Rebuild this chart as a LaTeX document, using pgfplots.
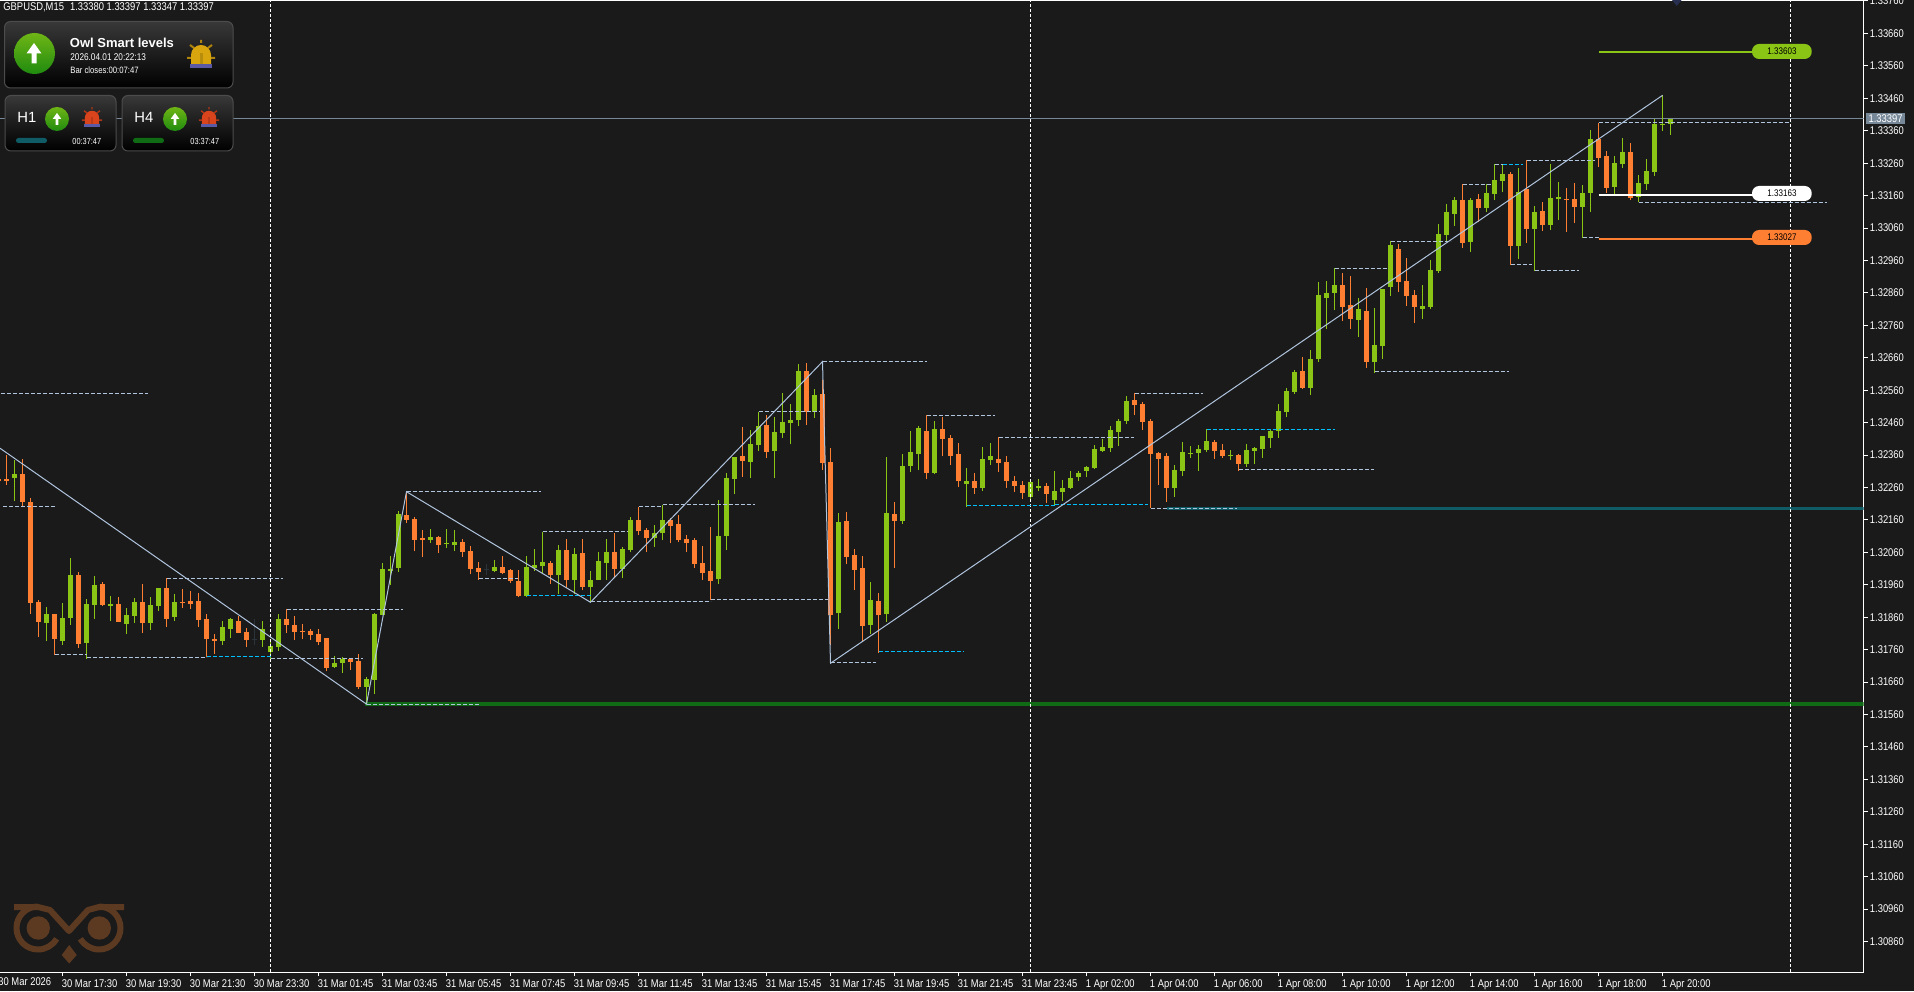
\documentclass[border=0pt]{standalone}
\usepackage{fontspec}
\usepackage{pgfplots}
\usepackage{pgfplotstable}
\pgfplotsset{compat=1.18}
\setmainfont{Liberation Sans}
\newfontfamily\tf[FakeStretch=0.84]{Liberation Sans}
\newcommand\fs[1]{\fontsize{#1}{#1}\selectfont}
\definecolor{bg}{HTML}{1A1A1A}
\definecolor{upc}{HTML}{8AC516}
\definecolor{dnc}{HTML}{FF7F32}
\definecolor{dojc}{HTML}{2B333B}
\definecolor{steel}{HTML}{B0C4DE}
\definecolor{slate}{HTML}{778899}
\definecolor{skyc}{HTML}{00BFFF}
\definecolor{teal1}{HTML}{0F5C66}
\definecolor{green1}{HTML}{0F6B14}
\definecolor{owl}{HTML}{5C3A22}
\definecolor{btop}{HTML}{6FB516}
\definecolor{bbot}{HTML}{1F8B0F}
\definecolor{alarmy}{HTML}{D9A50F}
\definecolor{alarmr}{HTML}{D9441C}

% k open high low close, 15 minute bars
\pgfplotstableread{
k o h l c
1 1.32289 1.32345 1.32218 1.32301
5 1.31842 1.31891 1.31786 1.31870
7 1.31786 1.31904 1.31774 1.31857
8 1.31857 1.32042 1.31836 1.31990
10 1.31780 1.31916 1.31731 1.31901
11 1.31897 1.31987 1.31854 1.31959
13 1.31894 1.31925 1.31848 1.31901
15 1.31839 1.31888 1.31808 1.31867
16 1.31864 1.31919 1.31842 1.31907
18 1.31842 1.31922 1.31820 1.31897
19 1.31894 1.31950 1.31879 1.31950
21 1.31860 1.31931 1.31848 1.31907
27 1.31786 1.31848 1.31774 1.31830
28 1.31823 1.31857 1.31796 1.31854
32 1.31790 1.31848 1.31768 1.31823
33 1.31753 1.31790 1.31722 1.31771
34 1.31768 1.31870 1.31756 1.31854
41 1.31706 1.31740 1.31703 1.31719
42 1.31719 1.31737 1.31688 1.31731
45 1.31645 1.31675 1.31592 1.31669
46 1.31666 1.31873 1.31623 1.31870
47 1.31867 1.32027 1.31867 1.32008
48 1.32002 1.32049 1.31959 1.32008
49 1.32012 1.32187 1.32000 1.32178
53 1.32098 1.32132 1.32089 1.32107
55 1.32086 1.32132 1.32073 1.32089
56 1.32082 1.32129 1.32064 1.32092
61 1.32002 1.32036 1.31999 1.32014
65 1.31925 1.32048 1.31922 1.32014
66 1.32011 1.32070 1.32002 1.32020
67 1.32017 1.32124 1.31995 1.32030
69 1.31989 1.32082 1.31931 1.32067
71 1.31974 1.32073 1.31931 1.32054
73 1.31952 1.32003 1.31906 1.31974
74 1.31974 1.32060 1.31974 1.32033
75 1.32027 1.32100 1.31974 1.32060
77 1.32008 1.32076 1.31980 1.32070
78 1.32067 1.32168 1.32060 1.32159
81 1.32104 1.32144 1.32076 1.32119
82 1.32119 1.32207 1.32097 1.32159
89 1.31977 1.32221 1.31962 1.32110
90 1.32110 1.32304 1.32067 1.32289
91 1.32285 1.32353 1.32239 1.32353
93 1.32338 1.32437 1.32289 1.32393
94 1.32390 1.32494 1.32372 1.32449
96 1.32372 1.32477 1.32289 1.32430
97 1.32427 1.32551 1.32412 1.32461
98 1.32458 1.32517 1.32393 1.32467
99 1.32467 1.32640 1.32449 1.32618
101 1.32492 1.32563 1.32474 1.32544
104 1.31872 1.32181 1.31823 1.32153
108 1.31835 1.31968 1.31808 1.31912
110 1.31869 1.32353 1.31845 1.32181
112 1.32156 1.32363 1.32147 1.32326
113 1.32326 1.32433 1.32307 1.32369
114 1.32363 1.32449 1.32313 1.32443
116 1.32304 1.32464 1.32301 1.32440
120 1.32271 1.32320 1.32201 1.32280
122 1.32258 1.32385 1.32249 1.32348
123 1.32345 1.32397 1.32329 1.32357
128 1.32231 1.32286 1.32218 1.32277
129 1.32258 1.32286 1.32249 1.32265
131 1.32221 1.32311 1.32205 1.32249
132 1.32246 1.32283 1.32218 1.32258
133 1.32258 1.32311 1.32255 1.32289
134 1.32292 1.32311 1.32280 1.32305
135 1.32311 1.32326 1.32292 1.32323
136 1.32320 1.32391 1.32317 1.32379
137 1.32372 1.32409 1.32369 1.32385
138 1.32382 1.32450 1.32369 1.32437
139 1.32431 1.32471 1.32388 1.32465
140 1.32465 1.32542 1.32456 1.32527
146 1.32258 1.32329 1.32231 1.32314
147 1.32311 1.32400 1.32295 1.32369
148 1.32363 1.32388 1.32351 1.32366
149 1.32366 1.32391 1.32311 1.32379
150 1.32376 1.32439 1.32369 1.32403
153 1.32357 1.32376 1.32345 1.32360
155 1.32332 1.32394 1.32323 1.32376
156 1.32372 1.32385 1.32332 1.32382
157 1.32379 1.32419 1.32351 1.32419
158 1.32413 1.32440 1.32382 1.32434
159 1.32434 1.32517 1.32413 1.32496
160 1.32493 1.32567 1.32477 1.32557
161 1.32554 1.32622 1.32548 1.32616
163 1.32567 1.32684 1.32545 1.32656
164 1.32656 1.32894 1.32647 1.32853
165 1.32844 1.32897 1.32749 1.32860
166 1.32860 1.32936 1.32807 1.32884
169 1.32776 1.32844 1.32724 1.32810
171 1.32647 1.32813 1.32613 1.32699
172 1.32696 1.32872 1.32656 1.32872
173 1.32878 1.33020 1.32850 1.33008
177 1.32810 1.32884 1.32779 1.32820
178 1.32816 1.32961 1.32810 1.32931
179 1.32927 1.33072 1.32922 1.33042
180 1.33038 1.33134 1.33017 1.33109
181 1.33103 1.33156 1.33066 1.33146
183 1.33017 1.33153 1.32986 1.33146
185 1.33122 1.33196 1.33109 1.33168
186 1.33165 1.33256 1.33146 1.33208
187 1.33205 1.33254 1.33171 1.33227
189 1.33005 1.33245 1.32964 1.33171
191 1.33057 1.33128 1.32927 1.33109
193 1.33069 1.33257 1.33054 1.33153
194 1.33149 1.33202 1.33085 1.33156
197 1.33125 1.33193 1.33029 1.33168
198 1.33168 1.33362 1.33109 1.33334
201 1.33186 1.33282 1.33165 1.33260
202 1.33257 1.33338 1.33245 1.33294
204 1.33156 1.33223 1.33139 1.33199
205 1.33196 1.33273 1.33177 1.33236
206 1.33233 1.33396 1.33220 1.33381
207 1.33378 1.33469 1.33359 1.33381
208 1.33380 1.33397 1.33347 1.33397
}\upbars

\pgfplotstableread{
k o h l c
-1 1.32286 1.32290 1.32282 1.32280
0 1.32286 1.32360 1.32267 1.32280
2 1.32301 1.32348 1.32200 1.32215
3 1.32215 1.32229 1.31870 1.31904
4 1.31907 1.31912 1.31799 1.31845
6 1.31870 1.31870 1.31743 1.31793
9 1.31990 1.32000 1.31765 1.31777
12 1.31962 1.31968 1.31894 1.31897
14 1.31901 1.31922 1.31845 1.31845
17 1.31907 1.31962 1.31811 1.31842
20 1.31950 1.31980 1.31830 1.31854
22 1.31907 1.31947 1.31888 1.31904
23 1.31910 1.31941 1.31885 1.31901
24 1.31910 1.31934 1.31830 1.31851
25 1.31854 1.31870 1.31736 1.31793
26 1.31793 1.31808 1.31746 1.31786
29 1.31848 1.31864 1.31811 1.31811
30 1.31814 1.31827 1.31768 1.31790
35 1.31854 1.31884 1.31811 1.31836
36 1.31836 1.31864 1.31790 1.31814
37 1.31817 1.31839 1.31793 1.31814
38 1.31817 1.31823 1.31790 1.31805
39 1.31808 1.31823 1.31774 1.31783
40 1.31796 1.31796 1.31694 1.31703
43 1.31731 1.31734 1.31697 1.31722
44 1.31725 1.31746 1.31638 1.31645
50 1.32175 1.32246 1.32150 1.32160
51 1.32163 1.32169 1.32064 1.32098
52 1.32104 1.32129 1.32045 1.32098
54 1.32107 1.32110 1.32058 1.32082
57 1.32092 1.32101 1.32045 1.32061
58 1.32064 1.32079 1.31993 1.32008
59 1.32012 1.32030 1.31975 1.32000
62 1.32014 1.32048 1.31993 1.31996
63 1.32005 1.32008 1.31965 1.31971
64 1.31971 1.32005 1.31922 1.31925
68 1.32027 1.32033 1.31962 1.31989
70 1.32067 1.32100 1.31949 1.31974
72 1.32057 1.32100 1.31943 1.31952
76 1.32060 1.32119 1.31980 1.32008
79 1.32159 1.32201 1.32113 1.32125
80 1.32128 1.32134 1.32060 1.32104
83 1.32159 1.32165 1.32088 1.32141
84 1.32147 1.32174 1.32091 1.32097
85 1.32100 1.32113 1.32060 1.32088
86 1.32097 1.32104 1.32011 1.32023
87 1.32027 1.32079 1.31974 1.31996
88 1.32003 1.32137 1.31914 1.31971
92 1.32356 1.32446 1.32292 1.32341
95 1.32452 1.32483 1.32350 1.32369
100 1.32618 1.32643 1.32452 1.32492
102 1.32548 1.32591 1.32313 1.32335
103 1.32338 1.32381 1.31774 1.31866
105 1.32156 1.32184 1.32023 1.32045
106 1.32051 1.32070 1.31943 1.32005
107 1.32011 1.32048 1.31783 1.31832
109 1.31909 1.31934 1.31751 1.31866
111 1.32178 1.32215 1.32011 1.32156
115 1.32433 1.32482 1.32285 1.32304
117 1.32440 1.32477 1.32356 1.32409
118 1.32412 1.32421 1.32329 1.32356
119 1.32363 1.32396 1.32261 1.32279
121 1.32280 1.32305 1.32240 1.32258
124 1.32348 1.32415 1.32308 1.32335
125 1.32339 1.32357 1.32258 1.32280
126 1.32280 1.32295 1.32246 1.32265
127 1.32268 1.32280 1.32224 1.32243
130 1.32265 1.32274 1.32212 1.32240
141 1.32530 1.32550 1.32483 1.32514
142 1.32517 1.32524 1.32437 1.32462
143 1.32465 1.32471 1.32196 1.32363
144 1.32366 1.32369 1.32268 1.32348
145 1.32357 1.32366 1.32215 1.32258
151 1.32400 1.32406 1.32348 1.32372
152 1.32376 1.32394 1.32351 1.32357
154 1.32360 1.32363 1.32312 1.32332
162 1.32619 1.32662 1.32564 1.32567
167 1.32884 1.32921 1.32773 1.32816
168 1.32823 1.32912 1.32749 1.32779
170 1.32804 1.32875 1.32628 1.32647
174 1.32995 1.33011 1.32863 1.32894
175 1.32897 1.32968 1.32820 1.32850
176 1.32853 1.32869 1.32767 1.32816
182 1.33146 1.33195 1.32998 1.33014
184 1.33149 1.33165 1.33079 1.33122
188 1.33227 1.33233 1.32946 1.33005
190 1.33180 1.33269 1.33014 1.33057
192 1.33112 1.33140 1.33051 1.33069
195 1.33149 1.33183 1.33048 1.33146
196 1.33149 1.33199 1.33075 1.33125
199 1.33334 1.33385 1.33248 1.33276
200 1.33282 1.33297 1.33168 1.33183
203 1.33294 1.33322 1.33146 1.33153
}\downbars

\pgfplotstableread{
k o h l c
31 1.31793 1.31854 1.31774 1.31790
60 1.32009 1.32023 1.31991 1.32006
}\flatbars

\pgfplotsset{
  wick/.style={draw=none,forget plot,error bars/.cd,y dir=plus,y explicit,error mark=none,
    error bar style={line width=0.5pt,line cap=butt,solid,#1}},
  body/.style={draw=none,forget plot,error bars/.cd,y dir=plus,y explicit,error mark=none,
    error bar style={line width=2.5pt,line cap=butt,solid,#1}},
  lvl/.style={steel,line width=0.5pt,dash pattern=on 2pt off 1pt,forget plot},
  lvc/.style={skyc,line width=0.5pt,dash pattern=on 2pt off 1pt,forget plot},
}

\newcommand\arrowicon[3]{%
  \begin{scope}[shift={(#1,#2)},scale=#3]
    \fill[white] (0,-10.5) -- (7.5,0) -- (2.5,0) -- (2.5,10) -- (-2.5,10) -- (-2.5,0) -- (-7.5,0) -- cycle;
  \end{scope}}
\newcommand\alarmicon[6]{% x y scale dome ray base
  \begin{scope}[shift={(#1,#2)},scale=#3]
    \draw[#5,line width=#3*1pt] (0,-15) -- (0,-12) (-11,-10) -- (-7,-7) (11,-10) -- (7,-7)
      (-14,3) -- (-10,3) (14,3) -- (10,3);
    \fill[#4] (-10,9) -- (-10,0) arc (180:360:10) -- (10,9) -- cycle;
    \fill[#6] (-11,9) rectangle (11,13);
    \fill[#4!85!black] (-1.5,-2) rectangle (1.5,9);
  \end{scope}}

\begin{document}
\begin{tikzpicture}
\fill[bg] (0,0) rectangle (957pt,495.5pt);
\useasboundingbox (0,0) rectangle (957pt,495.5pt);
\begin{axis}[
  at={(0pt,9.5pt)},anchor=south west,scale only axis,
  width=931.75pt,height=485.5pt,
  xmin=-0.8125,xmax=232.125,ymin=1.30766,ymax=1.33760,
  axis x line=box,axis y line=right,
  axis line style={white,line width=0.5pt,-},
  tick align=outside,major tick length=2pt,
  tick style={white,line width=0.5pt},
  xtick pos=bottom,ytick pos=right,
  xtick={7,15,...,207},
  xticklabels={30 Mar 17:30,30 Mar 19:30,30 Mar 21:30,30 Mar 23:30,31 Mar 01:45,31 Mar 03:45,31 Mar 05:45,31 Mar 07:45,31 Mar 09:45,31 Mar 11:45,31 Mar 13:45,31 Mar 15:45,31 Mar 17:45,31 Mar 19:45,31 Mar 21:45,31 Mar 23:45,1 Apr 02:00,1 Apr 04:00,1 Apr 06:00,1 Apr 08:00,1 Apr 10:00,1 Apr 12:00,1 Apr 14:00,1 Apr 16:00,1 Apr 18:00,1 Apr 20:00},
  ytick={1.3086,1.3096,1.3106,1.3116,1.3126,1.3136,1.3146,1.3156,1.3166,1.3176,1.3186,1.3196,1.3206,1.3216,1.3226,1.3236,1.3246,1.3256,1.3266,1.3276,1.3286,1.3296,1.3306,1.3316,1.3326,1.3336,1.3346,1.3356,1.3366,1.3376},
  tick label style={font=\tf\fs{5.6},text=white,inner sep=0pt},
  xticklabel style={anchor=north west,xshift=-0.5pt,yshift=-1.5pt},
  yticklabel style={anchor=west,xshift=1pt,/pgf/number format/fixed,/pgf/number format/fixed zerofill,/pgf/number format/precision=5,/pgf/number format/assume math mode=true},
  scaled y ticks=false,
]
% bid line and the two long support lines
\addplot[slate,line width=0.5pt,forget plot] coordinates {(-0.8125,1.33397) (232.125,1.33397)};
\addplot[green1,line width=1.75pt,forget plot] coordinates {(44.8,1.31592) (232.125,1.31592)};
\addplot[teal1,line width=1.5pt,forget plot] coordinates {(145,1.32196) (232.125,1.32196)};

% candles
\addplot[wick=upc] table[x=k,y=l,y error expr=\thisrow{h}-\thisrow{l}] {\upbars};
\addplot[body=upc] table[x=k,y=o,y error expr=\thisrow{c}-\thisrow{o}] {\upbars};
\addplot[wick=dnc] table[x=k,y=l,y error expr=\thisrow{h}-\thisrow{l}] {\downbars};
\addplot[body=dnc] table[x=k,y=c,y error expr=\thisrow{o}-\thisrow{c}] {\downbars};
\addplot[wick=dojc] table[x=k,y=l,y error expr=\thisrow{h}-\thisrow{l}] {\flatbars};
\addplot[body=dojc] table[x=k,y=c,y error expr=\thisrow{o}-\thisrow{c}] {\flatbars};

% session separators
\addplot[white,line width=0.5pt,dash pattern=on 1.5pt off 1pt,forget plot] coordinates {(33,1.30766) (33,1.3376)};
\addplot[white,line width=0.5pt,dash pattern=on 1.5pt off 1pt,forget plot] coordinates {(128,1.30766) (128,1.3376)};
\addplot[white,line width=0.5pt,dash pattern=on 1.5pt off 1pt,forget plot] coordinates {(223,1.30766) (223,1.3376)};

% swing levels
\addplot[lvl] coordinates {(-0.7,1.32549) (17.7,1.32549)};
\addplot[lvl] coordinates {(-0.4,1.32202) (6,1.32202)};
\addplot[lvl] coordinates {(20,1.31980) (34.6,1.31980)};
\addplot[lvl] coordinates {(35,1.31884) (49.6,1.31884)};
\addplot[lvl] coordinates {(6,1.31745) (10,1.31745)};
\addplot[lvl] coordinates {(10,1.31736) (25,1.31736)};
\addplot[lvc] coordinates {(25,1.31739) (33,1.31739)};
\addplot[lvl] coordinates {(33,1.31733) (44.6,1.31733)};
\addplot[lvl] coordinates {(45,1.31592) (59,1.31592)};
\addplot[lvl] coordinates {(50,1.32248) (66.8,1.32248)};
\addplot[lvl] coordinates {(59,1.31979) (63.9,1.31979)};
\addplot[lvc] coordinates {(65,1.31927) (73,1.31927)};
\addplot[lvl] coordinates {(73,1.31908) (88,1.31908)};
\addplot[lvl] coordinates {(88,1.31914) (102.7,1.31914)};
\addplot[lvl] coordinates {(67,1.32124) (77.7,1.32124)};
\addplot[lvl] coordinates {(79,1.32201) (82,1.32201)};
\addplot[lvl] coordinates {(82,1.32207) (93.6,1.32207)};
\addplot[lvl] coordinates {(94,1.32494) (101.7,1.32494)};
\addplot[lvl] coordinates {(102,1.32648) (115,1.32648)};
\addplot[lvl] coordinates {(115,1.32482) (123.6,1.32482)};
\addplot[lvl] coordinates {(103,1.31720) (108.7,1.31720)};
\addplot[lvc] coordinates {(109,1.31754) (119.7,1.31754)};
\addplot[lvl] coordinates {(124,1.32415) (140.9,1.32415)};
\addplot[lvc] coordinates {(120,1.32205) (131,1.32205)};
\addplot[lvc] coordinates {(131,1.32208) (142.7,1.32208)};
\addplot[lvl] coordinates {(143,1.32196) (153.8,1.32196)};
\addplot[lvl] coordinates {(141,1.32550) (149.6,1.32550)};
\addplot[lvc] coordinates {(150,1.32439) (166,1.32439)};
\addplot[lvl] coordinates {(154,1.32316) (170.9,1.32316)};
\addplot[lvl] coordinates {(171,1.32618) (187.8,1.32618)};
\addplot[lvl] coordinates {(166,1.32936) (172.6,1.32936)};
\addplot[lvl] coordinates {(173,1.33019) (180.5,1.33019)};
\addplot[lvl] coordinates {(182,1.33195) (185.5,1.33195)};
\addplot[lvl] coordinates {(186,1.33256) (187,1.33256)};
\addplot[lvc] coordinates {(187,1.33256) (189.6,1.33256)};
\addplot[lvl] coordinates {(190,1.33269) (198.6,1.33269)};
\addplot[lvl] coordinates {(188,1.32948) (190.7,1.32948)};
\addplot[lvl] coordinates {(191,1.32930) (196.6,1.32930)};
\addplot[lvl] coordinates {(197,1.33031) (199,1.33031)};
\addplot[lvl] coordinates {(199,1.33385) (223,1.33385)};
\addplot[lvl] coordinates {(204,1.33139) (227.5,1.33139)};

% zigzag
\addplot[steel,line width=0.5pt,forget plot] coordinates {
  (-0.8125,1.32381) (45,1.31592) (50,1.32247) (73,1.31906) (102,1.32648) (103,1.31718) (207,1.33469)};

% smart levels
\addplot[upc,line width=1pt,forget plot] coordinates {(199,1.33603) (218.5,1.33603)};
\addplot[white,line width=1pt,forget plot] coordinates {(199,1.33163) (218.5,1.33163)};
\addplot[dnc,line width=1pt,forget plot] coordinates {(199,1.33027) (218.5,1.33027)};
\end{axis}

\begin{scope}[x=0.5pt,y=-0.5pt,shift={(0pt,495.5pt)}]
  % header and the label cut off on the left
  \node[anchor=west,inner sep=0pt,text=white,font=\tf\fs{5.6}] at (3,7.5) {GBPUSD,M15\hspace{3pt}1.33380 1.33397 1.33347 1.33397};
  \node[anchor=west,inner sep=0pt,text=white,font=\tf\fs{5.6}] at (-2,981.5) {30 Mar 2026};

  % price and level tags
  \fill[slate] (1866,113) rectangle (1905,124.5);
  \node[inner sep=0pt,text=white,font=\tf\fs{5.6}] at (1885.5,118.7) {1.33397};
  \fill[upc,rounded corners=3.5pt] (1752,44) rectangle (1811.7,59);
  \fill[white,rounded corners=3.5pt] (1752,186) rectangle (1811.7,201);
  \fill[dnc,rounded corners=3.5pt] (1752,230) rectangle (1811.7,245);
  \node[inner sep=0pt,text=black,font=\tf\fs{4.8}] at (1782,51.2) {1.33603};
  \node[inner sep=0pt,text=black,font=\tf\fs{4.8}] at (1782,193.2) {1.33163};
  \node[inner sep=0pt,text=black,font=\tf\fs{4.8}] at (1782,237.2) {1.33027};
  \fill[dojc!90!blue] (1672,0) -- (1681.5,0) -- (1676.7,6) -- cycle;

  % main panel
  \path[draw=black!70!white,line width=0.5pt,rounded corners=3pt,top color=black!78!white,bottom color=black] (4.5,21.5) rectangle (233,88);
  \shade[top color=btop,bottom color=bbot] (34.5,53.5) circle (20.5);
  \arrowicon{34}{53.5}{1}
  \node[anchor=west,inner sep=0pt,text=white,font=\bfseries\fs{6.5}] at (69.5,43) {Owl Smart levels};
  \node[anchor=west,inner sep=0pt,text=white,font=\tf\fs{4.9}] at (70,57) {2026.04.01 20:22:13};
  \node[anchor=west,inner sep=0pt,text=white,font=\tf\fs{4.6}] at (70,70) {Bar closes:00:07:47};
  \alarmicon{201}{55}{1}{alarmy}{alarmy!80!black}{blue!30!gray}

  % H1 and H4 panels
  \path[draw=black!70!white,line width=0.5pt,rounded corners=3pt,top color=black!78!white,bottom color=black] (5,95.5) rectangle (116,151);
  \path[draw=black!70!white,line width=0.5pt,rounded corners=3pt,top color=black!78!white,bottom color=black] (122,95.5) rectangle (233,151);
  \node[anchor=west,inner sep=0pt,text=white,font=\fs{7.4}] at (17,117.5) {H1};
  \node[anchor=west,inner sep=0pt,text=white,font=\fs{7.4}] at (134,117.5) {H4};
  \shade[top color=btop,bottom color=bbot] (57,119) circle (12);
  \shade[top color=btop,bottom color=bbot] (175,119) circle (12);
  \arrowicon{57}{119}{0.58}
  \arrowicon{175}{119}{0.58}
  \alarmicon{92}{118}{0.72}{alarmr}{alarmr!80!black}{blue!30!gray}
  \alarmicon{209}{118}{0.72}{alarmr}{alarmr!80!black}{blue!30!gray}
  \fill[teal1,rounded corners=1.2pt] (16,138) rectangle (47,143);
  \fill[green1,rounded corners=1.2pt] (133,138) rectangle (164,143);
  \node[anchor=west,inner sep=0pt,text=white,font=\tf\fs{4.4}] at (72,141.5) {00:37:47};
  \node[anchor=west,inner sep=0pt,text=white,font=\tf\fs{4.4}] at (190,141.5) {03:37:47};

  % owl logo
  \begin{scope}[owl,line width=3pt,line join=round]
    \draw (14,907) -- (38,907) -- (50,910) -- (69,931) -- (88,910) -- (99,907) -- (124,907);
    \draw (38,906.5) arc (270:30:21.5);
    \draw (99,906.5) arc (270:510:21.5);
    \fill (38.3,928) circle (11.7) (99.3,928) circle (11.7);
    \fill (69.2,945) -- (76.7,955) -- (69.2,963.5) -- (61.7,955) -- cycle;
  \end{scope}
\end{scope}
\end{tikzpicture}
\end{document}
